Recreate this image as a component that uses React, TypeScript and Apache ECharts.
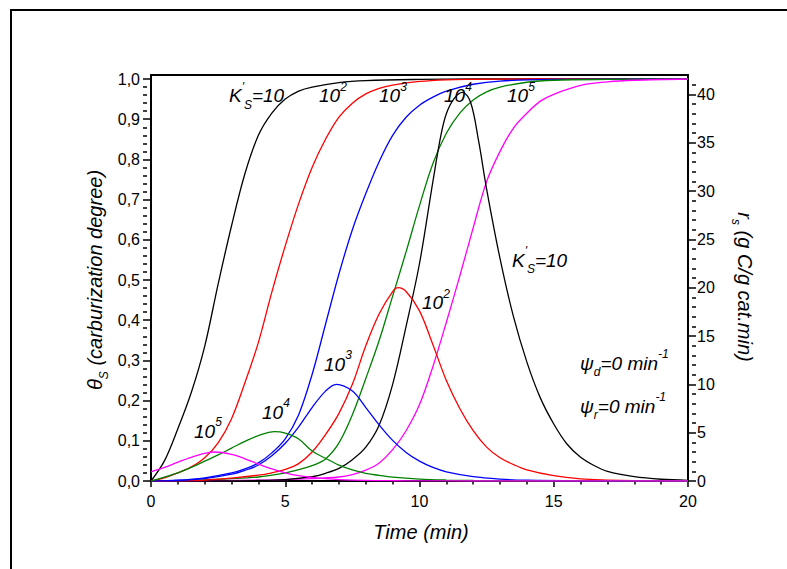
import React, { useEffect, useRef } from 'react';
import * as echarts from 'echarts';

const FONT = '"Liberation Sans", Arial, Helvetica, sans-serif';

// ---- carburization degree θS (left axis) : [time (min), θS]
const thetaK10 = [[0,0],[0.5,0.05],[1,0.13],[1.5,0.22],[2,0.335],[2.5,0.49],[3,0.635],[3.5,0.765],[4,0.86],[4.5,0.915],[5,0.95],[5.5,0.97],[6,0.98],[7,0.991],[8,0.996],[10,0.999],[12,1],[20,1]];
const thetaK100 = [[0,0],[0.5,0.008],[1,0.02],[1.5,0.035],[2,0.058],[2.5,0.095],[3,0.155],[3.5,0.245],[4,0.345],[4.5,0.47],[5,0.585],[5.5,0.69],[6,0.78],[6.5,0.85],[7,0.905],[7.5,0.94],[8,0.963],[8.5,0.977],[9,0.985],[10,0.994],[11,0.998],[12,0.999],[14,1],[20,1]];
const thetaK1e3 = [[0,0],[1,0.002],[2,0.008],[3,0.02],[3.5,0.03],[4,0.045],[4.5,0.07],[5,0.105],[5.5,0.165],[6,0.265],[6.5,0.39],[7,0.515],[7.5,0.625],[8,0.715],[8.5,0.795],[9,0.86],[9.5,0.905],[10,0.935],[10.5,0.955],[11,0.97],[12,0.987],[13,0.995],[15,0.999],[20,1]];
const thetaK1e4 = [[0,0],[2,0.003],[4,0.01],[5,0.02],[5.5,0.028],[6,0.038],[6.5,0.055],[7,0.095],[7.5,0.165],[8,0.255],[8.5,0.35],[9,0.46],[9.5,0.57],[10,0.685],[10.5,0.79],[11,0.865],[11.5,0.915],[12,0.948],[12.5,0.968],[13,0.98],[14,0.992],[15,0.997],[17,0.999],[20,1]];
const thetaK1e5 = [[0,0],[4,0.002],[6,0.006],[7,0.01],[7.5,0.016],[8,0.027],[8.5,0.045],[9,0.078],[9.5,0.125],[10,0.19],[10.5,0.285],[11,0.395],[11.5,0.51],[12,0.63],[12.5,0.745],[13,0.82],[13.5,0.878],[14,0.915],[14.5,0.945],[15,0.962],[16,0.984],[17,0.993],[18,0.997],[20,1]];

// ---- carbon formation rate rs (right axis) : [time (min), rs]
const rateK10 = [[0,0],[2,0.01],[4,0.05],[5,0.15],[6,0.45],[6.5,0.8],[7,1.3],[7.5,2.2],[8,3.5],[8.5,5.8],[9,10.0],[9.5,16.0],[10,22.5],[10.5,31.0],[10.8,35.8],[11,38.0],[11.3,39.6],[11.6,40.2],[11.9,39.2],[12.2,35.2],[12.5,30.2],[13,23.0],[13.5,17.0],[14,12.3],[14.5,8.6],[15,5.9],[15.5,3.8],[16,2.45],[16.5,1.6],[17,1.0],[18,0.45],[19,0.18],[20,0.07]];
const rateK100 = [[0,0],[2,0.1],[3,0.3],[4,0.6],[4.5,0.85],[5,1.2],[5.5,1.8],[6,3.0],[6.5,4.8],[7,7.0],[7.5,10.0],[8,14.0],[8.5,17.3],[9,19.6],[9.2,20.0],[9.5,19.6],[10,17.6],[10.5,14.1],[11,10.4],[11.5,7.5],[12,5.2],[12.5,3.5],[13,2.4],[13.5,1.7],[14,1.15],[15,0.55],[16,0.22],[17,0.1],[18,0.04],[20,0]];
const rateK1e3 = [[0,0],[1,0.05],[2,0.25],[3,0.7],[3.5,1.1],[4,1.65],[4.5,2.6],[5,3.9],[5.5,5.6],[6,7.6],[6.5,9.3],[6.9,10.0],[7.5,9.3],[8,7.6],[8.5,5.8],[9,4.2],[9.5,2.95],[10,2.05],[10.5,1.4],[11,0.95],[12,0.45],[13,0.2],[14,0.08],[16,0.02],[20,0]];
const rateK1e4 = [[0,0],[0.5,0.4],[1,0.85],[1.5,1.4],[2,2.05],[2.5,2.7],[3,3.4],[3.5,4.1],[4,4.7],[4.6,5.1],[5,4.95],[5.5,4.35],[6,3.1],[6.5,2.35],[7,1.65],[7.5,1.15],[8,0.8],[8.5,0.58],[9,0.4],[10,0.2],[11,0.1],[12,0.05],[14,0.01],[20,0]];
const rateK1e5 = [[0,0.95],[0.5,1.4],[1,1.95],[1.5,2.45],[2,2.85],[2.4,3.0],[3,2.75],[3.5,2.3],[4,1.75],[4.5,1.25],[5,0.85],[5.5,0.55],[6,0.37],[6.5,0.24],[7,0.15],[8,0.06],[9,0.025],[10,0.01],[12,0.002],[20,0]];

// ---- axes
const LEFT_TICKS = [0, 0.1, 0.2, 0.3, 0.4, 0.5, 0.6, 0.7, 0.8, 0.9, 1.0];
const RIGHT_TICKS = [0, 5, 10, 15, 20, 25, 30, 35, 40];
const X_MIN = 0, X_MAX = 20, X_INTERVAL = 5;
const LEFT_MAX = 1.01, RIGHT_MAX = 42;

const leftMinor: number[] = [];
for (let i = 1; i < 50; i++) if (i % 5 !== 0) leftMinor.push(i / 50);
const rightMinor: number[] = [];
for (let i = 1; i <= 41; i++) if (i % 5 !== 0) rightMinor.push(i);

const COLORS = ['#000000', '#ff0000', '#0000ff', '#008000', '#ff00ff'];
const KS = ['10', '10^2', '10^3', '10^4', '10^5'];
const THETA = [thetaK10, thetaK100, thetaK1e3, thetaK1e4, thetaK1e5];
const RATE = [rateK10, rateK100, rateK1e3, rateK1e4, rateK1e5];

const rich = {
  m: { fontSize: 19, fontStyle: 'italic', fontFamily: FONT, lineHeight: 30, fill: '#000' },
  t: { fontSize: 20, fontStyle: 'italic', fontFamily: FONT, lineHeight: 30, fill: '#000' },
  sup: { fontSize: 12, fontStyle: 'italic', fontFamily: FONT, lineHeight: 12, verticalAlign: 'top', fill: '#000' },
  sub: { fontSize: 12, fontStyle: 'italic', fontFamily: FONT, lineHeight: 12, verticalAlign: 'bottom', fill: '#000' },
};

function label(text: string, x: number, y: number, align = 'left', rotation = 0) {
  return {
    type: 'text',
    x, y, rotation,
    z: 100,
    style: { text, rich, align, verticalAlign: 'middle', fill: '#000', fontFamily: FONT, fontSize: 19, fontStyle: 'italic' },
  };
}

const GRID = { left: 151, right: 99, top: 75, bottom: 88, containLabel: false };
const MINOR_LEN = 4;

export default function App() {
  const ref = useRef<HTMLDivElement>(null);
  useEffect(() => {
    if (!ref.current) return;
    const chart = echarts.init(ref.current, null, { renderer: 'svg' });
    const series: any[] = [];
    THETA.forEach((d, i) => series.push({
      name: 'θS K=' + KS[i], type: 'line', data: d, xAxisIndex: 0, yAxisIndex: 0,
      smooth: 0.35, showSymbol: false, lineStyle: { color: COLORS[i], width: 1.3 }, itemStyle: { color: COLORS[i] },
    }));
    RATE.forEach((d, i) => series.push({
      name: 'rs K=' + KS[i], type: 'line', data: d, xAxisIndex: 0, yAxisIndex: 1,
      smooth: 0.35, showSymbol: false, lineStyle: { color: COLORS[i], width: 1.3 }, itemStyle: { color: COLORS[i] },
    }));
    const axisLabelStyle = { color: '#000', fontSize: 16, fontFamily: FONT };
    const tickLine = { color: '#000', width: 1.5 };
    chart.setOption({
      animation: false,
      backgroundColor: '#fff',
      grid: [GRID, { ...GRID, show: false }],
      xAxis: [
        {
          type: 'value', gridIndex: 0, position: 'bottom', min: X_MIN, max: X_MAX, interval: X_INTERVAL,
          axisLine: { lineStyle: { color: '#000', width: 2 } },
          axisTick: { inside: false, length: 6, lineStyle: tickLine },
          minorTick: { show: true, splitNumber: 5, length: 3.5, lineStyle: tickLine },
          splitLine: { show: false }, minorSplitLine: { show: false },
          axisLabel: { ...axisLabelStyle, margin: 12 },
        },
        {
          type: 'value', gridIndex: 0, position: 'top', min: X_MIN, max: X_MAX,
          axisLine: { show: true, onZero: false, lineStyle: { color: '#000', width: 2 } },
          axisTick: { show: false }, axisLabel: { show: false }, splitLine: { show: false },
        },
        {
          type: 'value', gridIndex: 1, position: 'bottom', min: X_MIN, max: X_MAX, show: false,
        },
      ],
      yAxis: [
        {
          type: 'value', gridIndex: 0, position: 'left', min: 0, max: LEFT_MAX,
          axisLine: { show: true, onZero: false, lineStyle: { color: '#000', width: 2 } },
          axisTick: { show: true, length: 8, customValues: LEFT_TICKS, lineStyle: tickLine },
          axisLabel: { ...axisLabelStyle, margin: 11, customValues: LEFT_TICKS, formatter: (v: number) => v.toFixed(1).replace('.', ',') },
          splitLine: { show: false },
        },
        {
          type: 'value', gridIndex: 0, position: 'right', min: 0, max: RIGHT_MAX,
          axisLine: { show: true, onZero: false, lineStyle: { color: '#000', width: 2 } },
          axisTick: { show: true, length: 8, customValues: RIGHT_TICKS, lineStyle: tickLine },
          axisLabel: { ...axisLabelStyle, margin: 9, customValues: RIGHT_TICKS },
          splitLine: { show: false },
        },
        {
          type: 'value', gridIndex: 1, position: 'left', offset: MINOR_LEN, min: 0, max: LEFT_MAX,
          axisLine: { show: false, onZero: false },
          axisTick: { show: true, length: MINOR_LEN, customValues: leftMinor, lineStyle: tickLine },
          axisLabel: { show: false }, splitLine: { show: false },
        },
        {
          type: 'value', gridIndex: 1, position: 'right', offset: MINOR_LEN, min: 0, max: RIGHT_MAX,
          axisLine: { show: false, onZero: false },
          axisTick: { show: true, length: MINOR_LEN, customValues: rightMinor, lineStyle: tickLine },
          axisLabel: { show: false }, splitLine: { show: false },
        },
      ],
      series,
      graphic: [
        { type: 'rect', shape: { x: 11, y: 10, width: 800, height: 600 }, style: { fill: 'none', stroke: '#000', lineWidth: 2 }, z: 100, silent: true },
        // θS curve labels
        label("{m|K}{sup|'}{sub|S}{m|=10}", 229, 95.5),
        label('{m|10}{sup|2}', 319, 95.5),
        label('{m|10}{sup|3}', 379, 95.5),
        label('{m|10}{sup|4}', 444, 95.5),
        label('{m|10}{sup|5}', 507, 95.5),
        // rs curve labels
        label("{m|K}{sup|'}{sub|S}{m|=10}", 512, 260),
        label('{m|10}{sup|2}', 422, 302.5),
        label('{m|10}{sup|3}', 324, 364),
        label('{m|10}{sup|4}', 262, 412),
        label('{m|10}{sup|5}', 194, 431),
        // conditions
        label('{m|ψ}{sub|d}{m|=0 min}{sup|-1}', 580, 363),
        label('{m|ψ}{sub|r}{m|=0 min}{sup|-1}', 580, 406),
        // axis titles
        label('{t|Time (min)}', 421, 532, 'center'),
        label('{t|θ}{sub|S}{t| (carburization degree)}', 95, 280, 'center', Math.PI / 2),
        label('{t|r}{sub|s}{t| (g C/g cat.min)}', 745, 287, 'center', -Math.PI / 2),
      ],
    });
    return () => chart.dispose();
  }, []);
  return <div ref={ref} style={{ position: 'absolute', left: 0, top: 0, width: 787, height: 569, background: '#fff' }} />;
}
